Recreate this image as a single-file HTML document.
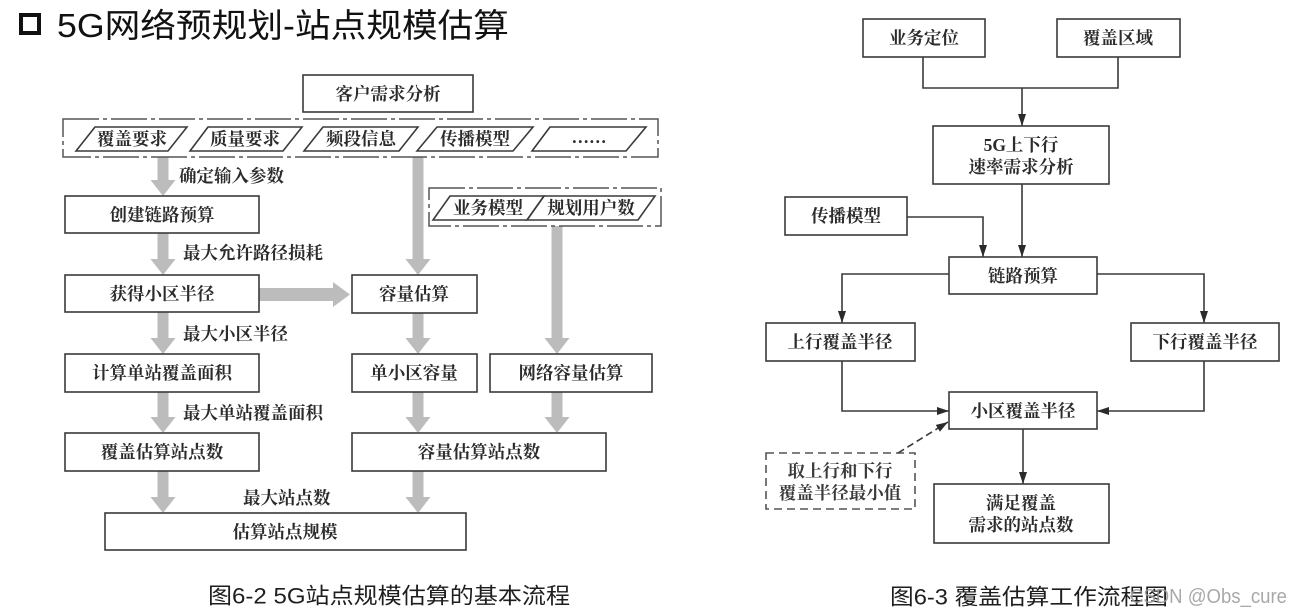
<!DOCTYPE html>
<html><head><meta charset="utf-8">
<style>
html,body{margin:0;padding:0;background:#fff;}
svg{display:block;}
.t{font-family:"Liberation Serif","Noto Serif CJK SC",serif;font-size:17.5px;font-weight:700;fill:#2b2b2b;text-anchor:middle;dominant-baseline:central;}
.lb{font-family:"Liberation Serif","Noto Serif CJK SC",serif;font-size:17.5px;font-weight:700;fill:#2b2b2b;dominant-baseline:central;}
.b{fill:#fff;stroke:#3a3a3a;stroke-width:1.6;}
.ln{fill:none;stroke:#3a3a3a;stroke-width:1.6;}
.g{fill:#bcbcbc;}
.cap{font-family:"Liberation Sans","Noto Sans CJK SC",sans-serif;font-size:22px;fill:#1e1e1e;dominant-baseline:central;}
</style></head>
<body>
<svg width="1303" height="615" viewBox="0 0 1303 615" xmlns="http://www.w3.org/2000/svg">
<defs>
<marker id="ah" markerWidth="12" markerHeight="8" refX="12" refY="4" orient="auto" markerUnits="userSpaceOnUse" viewBox="0 0 12 8">
<path d="M0,0 L12,4 L0,8 z" fill="#2b2b2b"/>
</marker>
</defs>
<rect width="1303" height="615" fill="#fff"/>

<!-- Title -->
<rect x="21" y="15" width="18" height="18" fill="none" stroke="#111" stroke-width="4"/>
<text x="57" y="37" font-family="Liberation Sans, Noto Sans CJK SC, sans-serif" font-size="33" fill="#111" textLength="452" lengthAdjust="spacingAndGlyphs">5G网络预规划-站点规模估算</text>

<!-- ===== Left diagram ===== -->
<g class="g">
<path d="M157.5,157 h11 v23 h7 l-12.5,16 l-12.5,-16 h7 z"/>
<path d="M157.5,233 h11 v26 h7 l-12.5,16 l-12.5,-16 h7 z"/>
<path d="M157.5,312 h11 v26 h7 l-12.5,16 l-12.5,-16 h7 z"/>
<path d="M157.5,392 h11 v25 h7 l-12.5,16 l-12.5,-16 h7 z"/>
<path d="M157.5,471 h11 v26 h7 l-12.5,16 l-12.5,-16 h7 z"/>
<path d="M259,288 h74 v-6 l17,12.5 l-17,12.5 v-6 h-74 z"/>
<path d="M412.5,157 h11 v102 h7 l-12.5,16 l-12.5,-16 h7 z"/>
<path d="M412.5,313 h11 v25 h7 l-12.5,16 l-12.5,-16 h7 z"/>
<path d="M412.5,392 h11 v25 h7 l-12.5,16 l-12.5,-16 h7 z"/>
<path d="M412.5,471 h11 v26 h7 l-12.5,16 l-12.5,-16 h7 z"/>
<path d="M551.5,226 h11 v112 h7 l-12.5,16 l-12.5,-16 h7 z"/>
<path d="M551.5,392 h11 v25 h7 l-12.5,16 l-12.5,-16 h7 z"/>
</g>

<rect class="b" x="303" y="75" width="170" height="37"/>
<text class="t" x="388" y="94">客户需求分析</text>

<rect x="63" y="119" width="595" height="38" fill="none" stroke="#555" stroke-width="1.5" stroke-dasharray="36 4 4 4"/>
<g class="ln">
<path d="M76,151 L95,127 L187,127 L168,151 z"/>
<path d="M190,151 L208,127 L302,127 L283,151 z"/>
<path d="M304,151 L323,127 L418,127 L399,151 z"/>
<path d="M417,151 L437,127 L533,127 L513,151 z"/>
<path d="M532,151 L550,127 L646,127 L626,151 z"/>
</g>
<text class="t" x="132" y="139">覆盖要求</text>
<text class="t" x="245" y="139">质量要求</text>
<text class="t" x="361" y="139">频段信息</text>
<text class="t" x="475" y="139">传播模型</text>
<text class="t" x="589" y="137">……</text>

<rect x="429" y="188" width="232" height="38" fill="none" stroke="#555" stroke-width="1.5" stroke-dasharray="36 4 4 4"/>
<g class="ln">
<path d="M433,220 L450,196 L544,196 L527,220 z"/>
<path d="M527,220 L544,196 L655,196 L638,220 z"/>
</g>
<text class="t" x="488" y="208">业务模型</text>
<text class="t" x="591" y="208">规划用户数</text>

<rect class="b" x="65" y="196" width="194" height="37"/>
<text class="t" x="162" y="215">创建链路预算</text>
<rect class="b" x="65" y="275" width="194" height="37"/>
<text class="t" x="162" y="294">获得小区半径</text>
<rect class="b" x="65" y="354" width="194" height="38"/>
<text class="t" x="162" y="373">计算单站覆盖面积</text>
<rect class="b" x="65" y="433" width="194" height="38"/>
<text class="t" x="162" y="452">覆盖估算站点数</text>

<rect class="b" x="352" y="275" width="125" height="38"/>
<text class="t" x="414" y="294">容量估算</text>
<rect class="b" x="352" y="354" width="125" height="38"/>
<text class="t" x="414" y="373">单小区容量</text>
<rect class="b" x="490" y="354" width="162" height="38"/>
<text class="t" x="571" y="373">网络容量估算</text>
<rect class="b" x="352" y="433" width="254" height="38"/>
<text class="t" x="479" y="452">容量估算站点数</text>

<rect class="b" x="105" y="513" width="361" height="37"/>
<text class="t" x="285" y="532">估算站点规模</text>

<text class="lb" x="179" y="176">确定输入参数</text>
<text class="lb" x="183" y="253">最大允许路径损耗</text>
<text class="lb" x="183" y="334">最大小区半径</text>
<text class="lb" x="183" y="413">最大单站覆盖面积</text>
<text class="lb" x="243" y="498">最大站点数</text>

<text class="cap" x="208" y="596" textLength="362" lengthAdjust="spacingAndGlyphs">图6-2 5G站点规模估算的基本流程</text>

<!-- ===== Right diagram ===== -->
<rect class="b" x="863" y="19" width="122" height="38"/>
<text class="t" x="924" y="38">业务定位</text>
<rect class="b" x="1057" y="19" width="123" height="38"/>
<text class="t" x="1118" y="38">覆盖区域</text>

<path class="ln" d="M923,57 V88 H1118 V57"/>
<path class="ln" d="M1022,88 V126" marker-end="url(#ah)"/>

<rect class="b" x="933" y="126" width="176" height="58"/>
<text class="t" x="1021" y="145">5G上下行</text>
<text class="t" x="1021" y="167">速率需求分析</text>

<rect class="b" x="785" y="197" width="122" height="38"/>
<text class="t" x="846" y="216">传播模型</text>

<path class="ln" d="M907,217 H983 V257" marker-end="url(#ah)"/>
<path class="ln" d="M1022,184 V257" marker-end="url(#ah)"/>

<rect class="b" x="949" y="257" width="148" height="37"/>
<text class="t" x="1023" y="276">链路预算</text>

<path class="ln" d="M949,274 H842 V323" marker-end="url(#ah)"/>
<path class="ln" d="M1097,274 H1204 V323" marker-end="url(#ah)"/>

<rect class="b" x="766" y="323" width="149" height="38"/>
<text class="t" x="840" y="342">上行覆盖半径</text>
<rect class="b" x="1131" y="323" width="148" height="38"/>
<text class="t" x="1205" y="342">下行覆盖半径</text>

<path class="ln" d="M842,361 V411 H949" marker-end="url(#ah)"/>
<path class="ln" d="M1204,361 V411 H1097" marker-end="url(#ah)"/>

<rect class="b" x="949" y="392" width="148" height="37"/>
<text class="t" x="1023" y="411">小区覆盖半径</text>

<path class="ln" d="M1023,429 V484" marker-end="url(#ah)"/>

<rect class="b" x="934" y="484" width="175" height="59"/>
<text class="t" x="1021" y="503">满足覆盖</text>
<text class="t" x="1021" y="525">需求的站点数</text>

<rect x="766" y="453" width="149" height="56" fill="none" stroke="#555" stroke-width="1.6" stroke-dasharray="8 5"/>
<text class="t" x="840" y="471" style="fill:#3a3a3a">取上行和下行</text>
<text class="t" x="840" y="493" style="fill:#3a3a3a">覆盖半径最小值</text>
<path d="M898,453 L948,422" fill="none" stroke="#3a3a3a" stroke-width="1.6" stroke-dasharray="7 4" marker-end="url(#ah)"/>

<text class="cap" x="890" y="597" textLength="278" lengthAdjust="spacingAndGlyphs">图6-3 覆盖估算工作流程图</text>
<text x="1130" y="597" font-family="Liberation Sans, sans-serif" font-size="20" fill="#9a9a9a" dominant-baseline="central" textLength="157" lengthAdjust="spacingAndGlyphs" opacity="0.85">CSDN @Obs_cure</text>
</svg>
</body></html>
